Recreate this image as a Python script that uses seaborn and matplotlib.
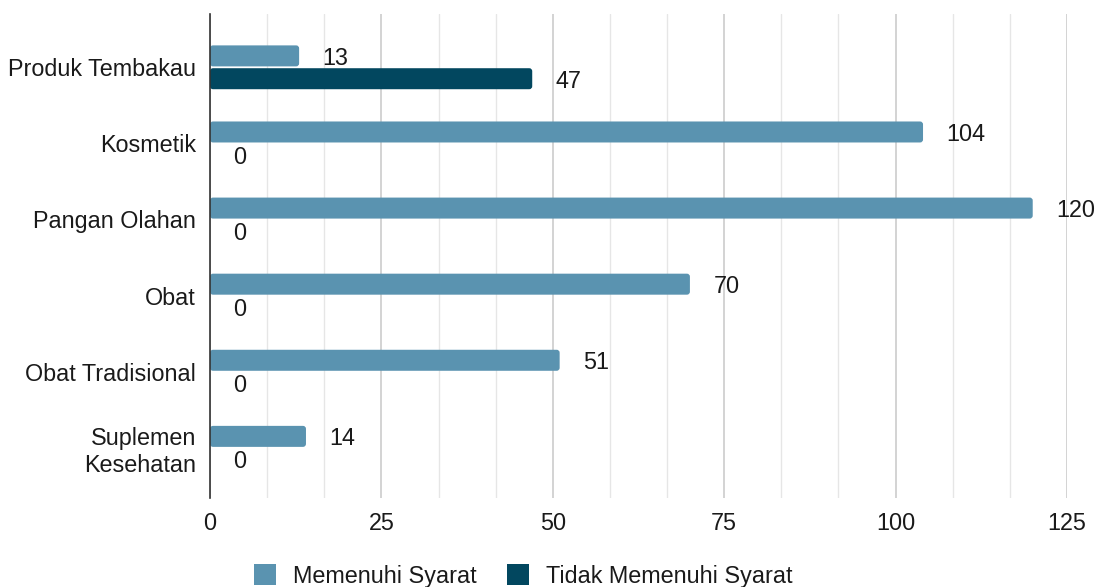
import pandas as pd
import matplotlib.pyplot as plt
import seaborn as sns
from matplotlib.patches import FancyBboxPatch, Patch
from matplotlib.ticker import MultipleLocator

categories = ["Produk Tembakau", "Kosmetik", "Pangan Olahan", "Obat",
              "Obat Tradisional", "Suplemen\nKesehatan"]
memenuhi = [13, 104, 120, 70, 51, 14]
tidak_memenuhi = [47, 0, 0, 0, 0, 0]
series_names = ["Memenuhi Syarat", "Tidak Memenuhi Syarat"]
colors = ["#5a93b0", "#02475f"]

df = pd.DataFrame({
    "Kategori": categories * 2,
    "Jumlah": memenuhi + tidak_memenuhi,
    "Status": [series_names[0]] * 6 + [series_names[1]] * 6,
})

sns.set_style("white")
plt.rcParams["font.family"] = ["Liberation Sans", "DejaVu Sans"]
FS = 16.8

fig = plt.figure(figsize=(11, 5.87), dpi=100)
ax = fig.add_axes([0.1909, 0.1516, 0.7791, 0.8245])

sns.barplot(data=df, y="Kategori", x="Jumlah", hue="Status", orient="h",
            palette=colors, saturation=1, width=0.6, gap=0.08, legend=False, ax=ax)

# rounded bar ends
xpx = 857 / 125
ypx = 76.2
for bar in list(ax.patches):
    x, y = bar.get_x(), bar.get_y()
    w, h = bar.get_width(), bar.get_height()
    if w > 0:
        r = 3 / xpx
        fb = FancyBboxPatch((x, y), w, h, boxstyle=f"round,pad=0,rounding_size={r}",
                            mutation_aspect=(3 / ypx) / r,
                            facecolor=bar.get_facecolor(), edgecolor="none", zorder=3)
        ax.add_patch(fb)
    bar.set_visible(False)

# value labels
for i, cat in enumerate(categories):
    for j, vals in enumerate([memenuhi, tidak_memenuhi]):
        yc = i + (-0.15 if j == 0 else 0.15)
        ax.annotate(str(vals[i]), (vals[i], yc), xytext=(17, 0),
                    textcoords="offset points", ha="left", va="center_baseline",
                    fontsize=FS, color="#1a1a1a")

ax.set_xlim(0, 125)
ax.set_ylim(5.66, -0.7)
ax.xaxis.set_major_locator(MultipleLocator(25))
ax.xaxis.set_minor_locator(MultipleLocator(25 / 3))
ax.grid(axis="x", which="major", color="#cccccc", linewidth=1.2, zorder=0)
ax.grid(axis="x", which="minor", color="#e6e6e6", linewidth=1.0, zorder=0)
ax.set_axisbelow(True)
for s in ["top", "right", "bottom"]:
    ax.spines[s].set_visible(False)
ax.spines["left"].set_color("#333333")
ax.spines["left"].set_linewidth(1.2)
ax.spines["left"].set_zorder(5)
ax.tick_params(axis="both", which="both", length=0, labelsize=FS, colors="#1a1a1a")
ax.tick_params(axis="x", pad=10)
ax.tick_params(axis="y", pad=10)
ax.set_xlabel("")
ax.set_ylabel("")
for lbl in ax.get_yticklabels():
    lbl.set_ha("right")
    lbl.set_multialignment("right")

handles = [Patch(facecolor=c, edgecolor="none") for c in colors]
fig.legend(handles, series_names, loc="center", bbox_to_anchor=(523.5 / 1100, 1 - 576 / 587),
           ncol=2, frameon=False, fontsize=FS, handlelength=0.95, handleheight=0.95,
           columnspacing=1.3, handletextpad=0.72, labelcolor="#1a1a1a")

fig.savefig("out.png", dpi=100)
